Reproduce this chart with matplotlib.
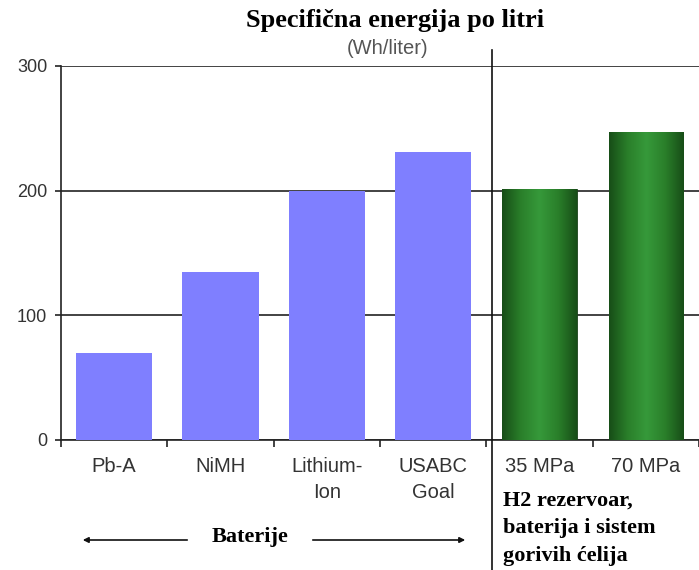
import matplotlib
matplotlib.use('Agg')
import matplotlib.pyplot as plt
import numpy as np
from matplotlib.colors import LinearSegmentedColormap
from matplotlib.lines import Line2D

# podaci
categories = ['Pb-A', 'NiMH', 'Lithium-\nIon', 'USABC\nGoal', '35 MPa', '70 MPa']
values = [70, 135, 200, 231, 201, 247]
is_h2 = [False, False, False, False, True, True]

W, H = 699, 570
fig = plt.figure(figsize=(W / 100, H / 100), dpi=100)
ax = fig.add_axes([61 / W, 130 / H, 638 / W, 374 / H])

x = np.arange(len(categories))
blue = '#7f7fff'
green_cmap = LinearSegmentedColormap.from_list(
    'g', ['#174d17', '#2a7f2a', '#36993a', '#2a7f2a', '#174d17'])

for xi, v, h2 in zip(x, values, is_h2):
    if not h2:
        ax.bar(xi, v, width=0.72, color=blue, zorder=3)
    else:
        b = ax.bar(xi, v, width=0.7, color='#2a7f2a', edgecolor='#1a3f1a',
                   linewidth=0.6, zorder=3)[0]
        grad = np.linspace(0, 1, 256).reshape(1, -1)
        im = ax.imshow(grad, cmap=green_cmap, aspect='auto', zorder=3.5,
                       extent=[xi - 0.35, xi + 0.35, 0, v])
        im.set_clip_path(b)

ax.set_xlim(-0.5, 5.44)
ax.set_ylim(0, 300)
ax.set_yticks([0, 100, 200, 300])
ax.grid(axis='y', color='#222222', linewidth=1.2, zorder=1)

ax.set_xticks(x)
ax.set_xticklabels(categories, linespacing=1.45)
ax.set_xticks(np.arange(-0.5, 6, 1), minor=True)
ax.tick_params(axis='x', which='major', length=0, pad=12.5, labelsize=14.5,
               labelcolor='#333333')
ax.tick_params(axis='x', which='minor', length=5, width=1.2, color='#222222',
               direction='out')
ax.tick_params(axis='y', length=4, width=1.2, color='#222222', pad=6,
               labelsize=13, labelcolor='#333333')
for lab in ax.get_xticklabels() + ax.get_yticklabels():
    lab.set_family('Liberation Sans')

ax.spines['top'].set_visible(False)
ax.spines['right'].set_visible(False)
ax.spines['left'].set_color('#222222')
ax.spines['bottom'].set_color('#222222')
ax.spines['left'].set_linewidth(1.2)
ax.spines['bottom'].set_linewidth(1.2)

# naslovi
fig.text(395 / W, 1 - 20 / H, 'Specifična energija po litri', ha='center', va='center',
         family='Liberation Serif', fontweight='bold', fontsize=19)
fig.text(388 / W, 1 - 48 / H, '(Wh/liter)', ha='center', va='center',
         family='Liberation Sans', fontsize=14.5, color='#555555')

# razdjelna linija
fig.add_artist(Line2D([492 / W, 492 / W], [0, 1 - 50 / H], color='#111111',
                      linewidth=1.2))

# baterije
fig.text(250 / W, 1 - 537 / H, 'Baterije', ha='center', va='center',
         family='Liberation Serif', fontweight='bold', fontsize=16)
fig.add_artist(matplotlib.patches.FancyArrowPatch(
    (190 / W, 1 - 540 / H), (80 / W, 1 - 540 / H), transform=fig.transFigure,
    arrowstyle='-|>', mutation_scale=8, color='#111111', linewidth=1.2))
fig.add_artist(matplotlib.patches.FancyArrowPatch(
    (310 / W, 1 - 540 / H), (468 / W, 1 - 540 / H), transform=fig.transFigure,
    arrowstyle='-|>', mutation_scale=8, color='#111111', linewidth=1.2))

fig.text(503 / W, 1 - 528 / H, 'H2 rezervoar,\nbaterija i sistem\ngorivih ćelija',
         ha='left', va='center', family='Liberation Serif', fontweight='bold',
         fontsize=16, linespacing=1.5)

fig.savefig('out.png', dpi=100)
